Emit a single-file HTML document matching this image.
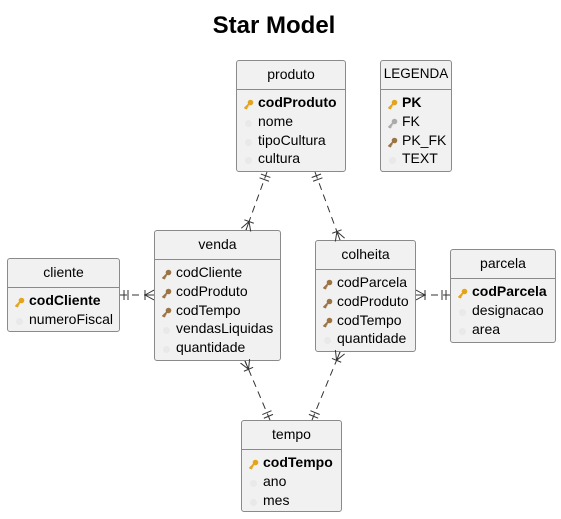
<!DOCTYPE html>
<html><head><meta charset="utf-8"><style>
body{margin:0;width:561px;height:519px;background:#fff;position:relative;overflow:hidden;font-family:"Liberation Sans",sans-serif;font-size:14px;color:#000}
.t{position:absolute;left:0;width:548px;text-align:center;top:12px;font-size:24px;font-weight:bold}
.b{position:absolute;background:#f1f1f1;border:1px solid #8a8a8a;border-radius:3px;box-sizing:border-box}
.h{text-align:center;border-bottom:1px solid #8a8a8a;box-sizing:border-box;padding-top:5px}
.r{position:relative;height:18.8px;line-height:18.8px;padding-left:21px;white-space:nowrap}
.r i{position:absolute;left:6px;top:3px;width:11px;height:11px}
.k{font-weight:bold}
svg.c{position:absolute;left:0;top:0}
</style></head><body>
<div class="t">Star Model</div>
<svg width="0" height="0" style="position:absolute">
<defs>
<symbol id="key" viewBox="0 0 11 11"><circle cx="7.5" cy="3.5" r="2.8" fill="currentColor"/><path d="M6 5 L1.5 9.5 M2.5 8.5 L4 10 M3.8 7 L5 8.3" stroke="currentColor" stroke-width="1.8" fill="none"/></symbol>
<symbol id="dot" viewBox="0 0 11 11"><circle cx="5.5" cy="5.5" r="3.5" fill="#e9e9e9"/></symbol>
</defs></svg>

<div class="b" style="left:236px;top:60px;width:110px;height:112px">
<div class="h" style="height:29px">produto</div>
<div style="padding-top:3px">
<div class="r k"><i><svg width="11" height="11" style="color:#e3a41d"><use href="#key"/></svg></i>codProduto</div>
<div class="r"><i><svg width="11" height="11"><use href="#dot"/></svg></i>nome</div>
<div class="r"><i><svg width="11" height="11"><use href="#dot"/></svg></i>tipoCultura</div>
<div class="r"><i><svg width="11" height="11"><use href="#dot"/></svg></i>cultura</div>
</div></div>

<div class="b" style="left:380px;top:60px;width:72px;height:112px">
<div class="h" style="height:29px;font-size:13.5px">LEGENDA</div>
<div style="padding-top:3px">
<div class="r k"><i><svg width="11" height="11" style="color:#e3a41d"><use href="#key"/></svg></i>PK</div>
<div class="r"><i><svg width="11" height="11" style="color:#ababab"><use href="#key"/></svg></i>FK</div>
<div class="r"><i><svg width="11" height="11" style="color:#9a7443"><use href="#key"/></svg></i>PK_FK</div>
<div class="r"><i><svg width="11" height="11"><use href="#dot"/></svg></i>TEXT</div>
</div></div>

<div class="b" style="left:7px;top:258px;width:113px;height:74px">
<div class="h" style="height:29px">cliente</div>
<div style="padding-top:3px">
<div class="r k"><i><svg width="11" height="11" style="color:#e3a41d"><use href="#key"/></svg></i>codCliente</div>
<div class="r"><i><svg width="11" height="11"><use href="#dot"/></svg></i>numeroFiscal</div>
</div></div>

<div class="b" style="left:154px;top:230px;width:127px;height:131px">
<div class="h" style="height:29px">venda</div>
<div style="padding-top:3px">
<div class="r"><i><svg width="11" height="11" style="color:#9a7443"><use href="#key"/></svg></i>codCliente</div>
<div class="r"><i><svg width="11" height="11" style="color:#9a7443"><use href="#key"/></svg></i>codProduto</div>
<div class="r"><i><svg width="11" height="11" style="color:#9a7443"><use href="#key"/></svg></i>codTempo</div>
<div class="r"><i><svg width="11" height="11"><use href="#dot"/></svg></i>vendasLiquidas</div>
<div class="r"><i><svg width="11" height="11"><use href="#dot"/></svg></i>quantidade</div>
</div></div>

<div class="b" style="left:315px;top:240px;width:101px;height:112px">
<div class="h" style="height:29px">colheita</div>
<div style="padding-top:3px">
<div class="r"><i><svg width="11" height="11" style="color:#9a7443"><use href="#key"/></svg></i>codParcela</div>
<div class="r"><i><svg width="11" height="11" style="color:#9a7443"><use href="#key"/></svg></i>codProduto</div>
<div class="r"><i><svg width="11" height="11" style="color:#9a7443"><use href="#key"/></svg></i>codTempo</div>
<div class="r"><i><svg width="11" height="11"><use href="#dot"/></svg></i>quantidade</div>
</div></div>

<div class="b" style="left:450px;top:249px;width:106px;height:94px">
<div class="h" style="height:29px">parcela</div>
<div style="padding-top:3px">
<div class="r k"><i><svg width="11" height="11" style="color:#e3a41d"><use href="#key"/></svg></i>codParcela</div>
<div class="r"><i><svg width="11" height="11"><use href="#dot"/></svg></i>designacao</div>
<div class="r"><i><svg width="11" height="11"><use href="#dot"/></svg></i>area</div>
</div></div>

<div class="b" style="left:241px;top:420px;width:101px;height:92px">
<div class="h" style="height:29px">tempo</div>
<div style="padding-top:3px">
<div class="r k"><i><svg width="11" height="11" style="color:#e3a41d"><use href="#key"/></svg></i>codTempo</div>
<div class="r"><i><svg width="11" height="11"><use href="#dot"/></svg></i>ano</div>
<div class="r"><i><svg width="11" height="11"><use href="#dot"/></svg></i>mes</div>
</div></div>

<svg class="c" width="561" height="519">
<defs>
<marker id="one" markerUnits="userSpaceOnUse" markerWidth="20" markerHeight="20" viewBox="0 -10 20 20" refX="20" refY="0" orient="auto-start-reverse">
<path d="M12 -5 V5 M16 -5 V5" stroke="#333" stroke-width="1" fill="none"/></marker>
<marker id="many" markerUnits="userSpaceOnUse" markerWidth="20" markerHeight="20" viewBox="0 -10 20 20" refX="20" refY="0" orient="auto-start-reverse">
<path d="M11 0 L20 -5 M11 0 L20 0 M11 0 L20 5 M11 -5 V5" stroke="#333" stroke-width="1" fill="none"/></marker>
</defs>
<g stroke="#333" stroke-width="1" fill="none" stroke-dasharray="7,5">
<line x1="267" y1="172" x2="246" y2="230" marker-start="url(#one)" marker-end="url(#many)"/>
<line x1="315" y1="172" x2="340" y2="240" marker-start="url(#one)" marker-end="url(#many)"/>
<line x1="120" y1="295" x2="154" y2="295" marker-start="url(#one)" marker-end="url(#many)"/>
<line x1="450" y1="295" x2="416" y2="295" marker-start="url(#one)" marker-end="url(#many)"/>
<line x1="270" y1="420" x2="245" y2="361" marker-start="url(#one)" marker-end="url(#many)"/>
<line x1="312" y1="420" x2="340" y2="352" marker-start="url(#one)" marker-end="url(#many)"/>
</g>
</svg>
</body></html>
